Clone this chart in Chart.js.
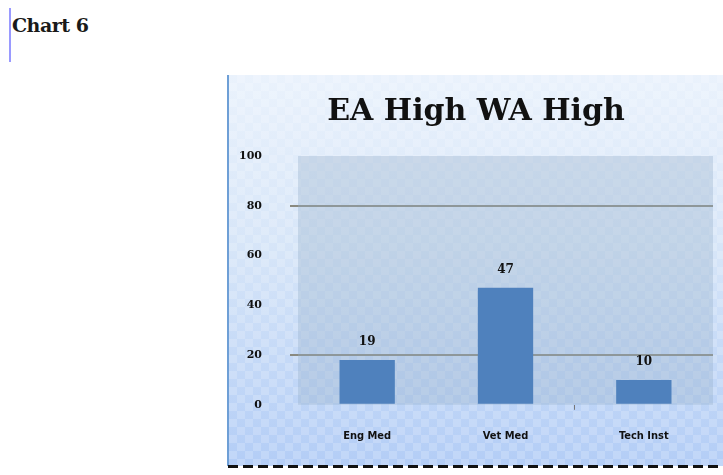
<!DOCTYPE html>
<html>
<head>
<meta charset="utf-8">
<script src="https://cdn.jsdelivr.net/npm/chart.js@4"></script>
<style>
  body { margin: 0; width: 723px; height: 475px; overflow: hidden; background: #fff; position: relative; }
  .margin-line { position: absolute; left: 9px; top: 8px; width: 2px; height: 54px; background: #9a9aff; }
  .heading { position: absolute; left: 12px; top: 14px; font: bold 19px "DejaVu Serif", serif; color: #1a1a1a; letter-spacing: -0.5px; }
  .frame {
    position: absolute; left: 227px; top: 75px; width: 510px; height: 391px;
    border-left: 2px solid #6e9fd6;
    background:
      repeating-conic-gradient(rgba(255,255,255,0.18) 0 25%, rgba(255,255,255,0) 0 50%) 0 0 / 16px 16px,
      linear-gradient(#eaf2fc 0%, #d6e5f8 45%, #b3cdf6 100%);
  }
  .dash {
    position: absolute; left: 228px; top: 465px; width: 500px; height: 3px;
    background: repeating-linear-gradient(90deg, #111 0 10px, transparent 10px 15px);
  }
  canvas { position: absolute; left: 0; top: 0; }
</style>
</head>
<body>
<div class="margin-line"></div>
<div class="heading">Chart 6</div>
<div class="frame"><canvas id="myChart" width="508" height="391"></canvas></div>
<div class="dash"></div>
<script>
const categories = ["Eng Med", "Vet Med", "Tech Inst"];
const values = [18, 47, 10];
const valueLabels = ["19", "47", "10"];
const yTicks = [0, 20, 40, 60, 80, 100];

const ctx = document.getElementById("myChart").getContext("2d");

// shaded plot area behind the bars
const plotBackground = {
  id: "plotBackground",
  beforeDatasetsDraw: (chart) => {
    const { ctx, chartArea: a } = chart;
    ctx.save();
    ctx.fillStyle = "rgba(150,175,200,0.35)";
    ctx.fillRect(a.left, a.top, a.right - a.left, a.bottom - a.top);
    ctx.restore();
  },
};

// numbers over the bars
const barLabels = {
  id: "barLabels",
  afterDatasetsDraw: (chart) => {
    const { ctx } = chart;
    const meta = chart.getDatasetMeta(0);
    ctx.save();
    ctx.font = "bold 12px 'DejaVu Serif', serif";
    ctx.fillStyle = "#111";
    ctx.textAlign = "center";
    ctx.textBaseline = "bottom";
    meta.data.forEach((bar, i) => {
      ctx.fillText(valueLabels[i], bar.x, bar.y - 12);
    });
    ctx.restore();
  },
};

const myChart = new Chart(ctx, {
  type: "bar",
  data: {
    labels: categories,
    datasets: [
      {
        data: values,
        backgroundColor: "#4f81bd",
        borderWidth: 0,
        categoryPercentage: 1,
        barPercentage: 0.4,
      },
    ],
  },
  options: {
    responsive: false,
    animation: false,
    layout: { padding: { left: 10, right: 24, top: 6, bottom: 3 } },
    plugins: {
      legend: { display: false },
      tooltip: { enabled: false },
      title: {
        display: true,
        text: "EA High WA High",
        color: "#111",
        font: { family: "'DejaVu Serif', serif", size: 30, weight: "bold" },
        padding: { top: 13, bottom: 26 },
      },
    },
    scales: {
      x: {
        grid: {
          display: true,
          drawOnChartArea: false,
          offset: true,
          tickLength: 5,
          color: (c) => (c.index >= 2 ? "#777" : "rgba(0,0,0,0)"),
        },
        border: { display: false },
        ticks: {
          color: "#111",
          padding: 20,
          font: { family: "'DejaVu Sans Condensed', sans-serif", size: 11, weight: "bold" },
        },
      },
      y: {
        min: 0,
        max: 100,
        afterBuildTicks: (axis) => {
          axis.ticks = yTicks.map((v) => ({ value: v }));
        },
        afterFit: (axis) => {
          axis.width = 59;
        },
        grid: {
          color: (c) => (c.tick && (c.tick.value === 20 || c.tick.value === 80) ? "#8a8a80" : "rgba(0,0,0,0)"),
          lineWidth: 2,
          tickLength: 8,
          drawTicks: true,
        },
        border: { display: false },
        ticks: {
          color: "#111",
          padding: 28,
          font: { family: "'DejaVu Serif', serif", size: 11, weight: "bold" },
        },
      },
    },
  },
  plugins: [plotBackground, barLabels],
});
</script>
</body>
</html>
